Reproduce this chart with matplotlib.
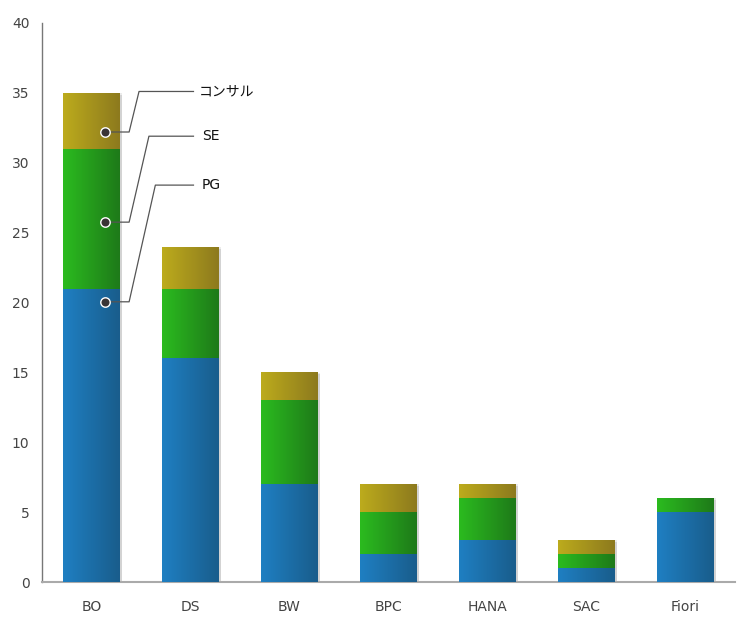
import numpy as np
import matplotlib
matplotlib.use("Agg")
import matplotlib.pyplot as plt
from matplotlib.colors import to_rgb

plt.rcParams['font.family'] = ['DejaVu Sans', 'Noto Sans CJK JP']

categories = ["BO", "DS", "BW", "BPC", "HANA", "SAC", "Fiori"]
series_names = ["PG", "SE", "コンサル"]
pg = [21, 16, 7, 2, 3, 1, 5]
se = [10, 5, 6, 3, 3, 1, 1]
consul = [4, 3, 2, 2, 1, 1, 0]
yticks = [0, 5, 10, 15, 20, 25, 30, 35, 40]

grad = {
    "PG": ("#1f7fc2", "#195d8c"),
    "SE": ("#2bbb1f", "#1e7a19"),
    "コンサル": ("#bcab1c", "#8d7a1e"),
}

W, H = 749, 621
fig = plt.figure(figsize=(W / 100, H / 100), dpi=100)
ax = fig.add_axes([42 / W, 39 / H, 693 / W, (582 - 23) / H])
ax.set_xlim(-0.5, len(categories) - 0.5)
ax.set_ylim(0, 40)

x = np.arange(len(categories))
width = 0.57
totals = np.array(pg) + np.array(se) + np.array(consul)

# soft shadow
ax.bar(x + 0.012, totals + 0.08, width + 0.03, bottom=-0.1, color="#000000", alpha=0.08, zorder=1, linewidth=0)
ax.bar(x + 0.02, totals, width + 0.01, bottom=-0.15, color="#000000", alpha=0.10, zorder=1, linewidth=0)

def gradient_img(c1, c2, n=64):
    a, b = np.array(to_rgb(c1)), np.array(to_rgb(c2))
    t = np.linspace(0, 1, n)[None, :, None]
    return a[None, None, :] * (1 - t) + b[None, None, :] * t

bottom = np.zeros(len(categories))
for name, vals in zip(series_names, [pg, se, consul]):
    bars = ax.bar(x, vals, width, bottom=bottom, color="none", linewidth=0, zorder=2)
    img = gradient_img(*grad[name])
    for b in bars:
        if b.get_height() <= 0:
            continue
        x0, y0 = b.get_x(), b.get_y()
        ax.imshow(img, extent=[x0, x0 + b.get_width(), y0, y0 + b.get_height()],
                  aspect="auto", zorder=3, interpolation="bilinear")
    bottom += np.array(vals)

ax.set_xlim(-0.5, len(categories) - 0.5)
ax.set_ylim(0, 40)

ax.set_xticks(x)
ax.set_xticklabels(categories)
ax.set_yticks(yticks)
ax.set_yticklabels([str(v) for v in yticks])
ax.tick_params(axis="both", length=0, colors="#444444", labelsize=10)
ax.tick_params(axis="x", pad=13)
ax.tick_params(axis="y", pad=9)
for sp in ["top", "right"]:
    ax.spines[sp].set_visible(False)
ax.spines["left"].set_color("#777777")
ax.spines["left"].set_linewidth(1)
ax.spines["bottom"].set_color("#aaaaaa")
ax.spines["bottom"].set_linewidth(1.5)

# leader labels on the first bar
dot_x = 0.14
label_dots = {"コンサル": 32.2, "SE": 25.75, "PG": 20.05}
label_y = {"コンサル": 35.1, "SE": 31.9, "PG": 28.4}
elbow = {"コンサル": 0.48, "SE": 0.58, "PG": 0.645}
for name in series_names:
    yd = label_dots[name]
    yl = label_y[name]
    ax.plot([dot_x, 0.38, elbow[name], 1.03], [yd, yd, yl, yl], color="#555555", lw=0.9, zorder=4)
    ax.scatter([dot_x], [yd], s=46, color="#3a3536", edgecolor="white", linewidth=1.0, zorder=5)
    tx = 1.085 if name == "コンサル" else 1.115
    ax.text(tx, yl, name, ha="left", va="center", fontsize=10, color="#111111", zorder=5)

fig.savefig("out.png", dpi=100)
